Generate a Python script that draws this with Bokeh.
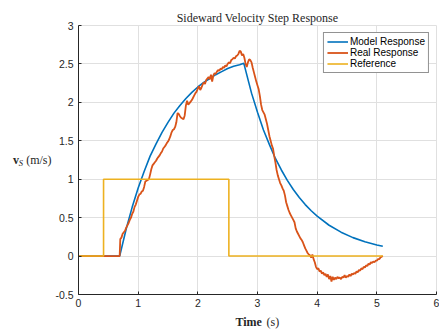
from bokeh.plotting import figure
from bokeh.models import Range1d, Label, Legend, LegendItem, FixedTicker
from bokeh.layouts import column, row
from bokeh.embed import file_html
from bokeh.resources import INLINE

# ---------------- data ----------------
model_t = [0.00, 0.69, 0.80, 0.90, 1.00, 1.10, 1.20, 1.30, 1.40, 1.50, 1.60, 1.70,
           1.80, 1.90, 2.00, 2.10, 2.20, 2.30, 2.40, 2.50, 2.60, 2.70, 2.77, 2.85,
           2.90, 3.00, 3.10, 3.20, 3.30, 3.40, 3.50, 3.60, 3.70, 3.80, 3.90, 4.00,
           4.20, 4.40, 4.60, 4.80, 5.00, 5.10]
model_v = [0.00, 0.00, 0.355, 0.637, 0.885, 1.10, 1.30, 1.46, 1.61, 1.74, 1.86, 1.96,
           2.05, 2.13, 2.20, 2.26, 2.31, 2.36, 2.40, 2.44, 2.47, 2.49, 2.51, 2.27,
           2.12, 1.87, 1.64, 1.45, 1.27, 1.12, 0.985, 0.867, 0.763, 0.670, 0.590, 0.519,
           0.401, 0.311, 0.240, 0.186, 0.144, 0.127]

real_t = [0.00, 0.69,
          0.70, 0.72, 0.74, 0.76, 0.78, 0.80, 0.82, 0.84, 0.86, 0.88,
          0.90, 0.92, 0.94, 0.96, 0.98, 1.00, 1.02, 1.04, 1.06, 1.08,
          1.10, 1.12, 1.14, 1.16, 1.18, 1.20, 1.22, 1.24, 1.26, 1.28,
          1.30, 1.32, 1.34, 1.36, 1.38, 1.40, 1.42, 1.44, 1.46, 1.48,
          1.50, 1.52, 1.54, 1.56, 1.58, 1.60, 1.62, 1.64, 1.66, 1.68,
          1.70, 1.72, 1.74, 1.76, 1.78, 1.80, 1.82, 1.84, 1.86, 1.88,
          1.90, 1.92, 1.94, 1.96, 1.98, 2.00, 2.02, 2.04, 2.06, 2.08,
          2.10, 2.12, 2.14, 2.16, 2.18, 2.20, 2.22, 2.24, 2.26, 2.28,
          2.30, 2.32, 2.34, 2.36, 2.38, 2.40, 2.42, 2.44, 2.46, 2.48,
          2.50, 2.52, 2.54, 2.56, 2.58, 2.60, 2.62, 2.64, 2.66, 2.68,
          2.70, 2.72, 2.74, 2.76, 2.78, 2.80, 2.82, 2.84, 2.86, 2.88,
          2.90, 2.92, 2.94, 2.96, 2.98, 3.00, 3.02, 3.04, 3.06, 3.08,
          3.10, 3.12, 3.14, 3.16, 3.18, 3.20, 3.22, 3.24, 3.26, 3.28,
          3.30, 3.32, 3.34, 3.36, 3.38, 3.40, 3.42, 3.44, 3.46, 3.48,
          3.50, 3.52, 3.54, 3.56, 3.58, 3.60, 3.62, 3.64, 3.66, 3.68,
          3.70, 3.72, 3.74, 3.76, 3.78, 3.80, 3.82, 3.84, 3.86, 3.88,
          3.90, 3.92, 3.94, 3.96, 3.98, 4.00, 4.02, 4.04, 4.06, 4.08,
          4.10, 4.12, 4.14, 4.16, 4.18, 4.20, 4.22, 4.24, 4.26, 4.28,
          4.30, 4.32, 4.34, 4.36, 4.38, 4.40, 4.42, 4.44, 4.46, 4.48,
          4.50, 4.52, 4.54, 4.56, 4.58, 4.60, 4.62, 4.64, 4.66, 4.68,
          4.70, 4.72, 4.74, 4.76, 4.78, 4.80, 4.82, 4.84, 4.86, 4.88,
          4.90, 4.92, 4.94, 4.96, 4.98, 5.00, 5.02, 5.04, 5.06, 5.08,
          5.10]
real_v = [0.00, 0.00,
          0.22, 0.24, 0.29, 0.31, 0.33, 0.37, 0.40, 0.43, 0.47, 0.50,
          0.55, 0.58, 0.64, 0.67, 0.72, 0.77, 0.80, 0.81, 0.84, 0.85,
          0.90, 0.97, 0.98, 0.99, 1.00, 1.06, 1.13, 1.18, 1.20, 1.22,
          1.24, 1.27, 1.29, 1.31, 1.34, 1.36, 1.40, 1.42, 1.44, 1.47,
          1.49, 1.52, 1.56, 1.61, 1.64, 1.65, 1.68, 1.74, 1.86, 1.85,
          1.82, 1.80, 1.79, 1.78, 1.83, 1.96, 2.02, 1.97, 1.99, 2.01,
          2.03, 2.06, 2.09, 2.12, 2.14, 2.18, 2.21, 2.16, 2.19, 2.23,
          2.26, 2.24, 2.29, 2.31, 2.33, 2.30, 2.36, 2.27, 2.35, 2.38,
          2.37, 2.40, 2.42, 2.41, 2.44, 2.43, 2.46, 2.45, 2.48, 2.47,
          2.50, 2.52, 2.51, 2.55, 2.56, 2.58, 2.57, 2.60, 2.61, 2.63,
          2.67, 2.66, 2.61, 2.63, 2.58, 2.50, 2.46, 2.52, 2.56, 2.55,
          2.52, 2.45, 2.39, 2.33, 2.27, 2.22, 2.17, 2.08, 1.97, 1.90,
          1.87, 1.84, 1.78, 1.72, 1.64, 1.56, 1.50, 1.44, 1.40, 1.30,
          1.22, 1.12, 1.05, 1.00, 0.95, 0.92, 0.88, 0.85, 0.79, 0.70,
          0.65, 0.60, 0.56, 0.53, 0.50, 0.47, 0.44, 0.36, 0.32, 0.29,
          0.26, 0.23, 0.21, 0.18, 0.14, 0.10, 0.07, 0.04, 0.02, 0.01,
          -0.02, 0.02, -0.04, -0.08, -0.14, -0.17, -0.16, -0.20, -0.19, -0.23,
          -0.21, -0.25, -0.23, -0.27, -0.24, -0.30, -0.26, -0.33, -0.27, -0.31,
          -0.28, -0.30, -0.27, -0.29, -0.28, -0.30, -0.27, -0.28, -0.25, -0.28,
          -0.26, -0.27, -0.24, -0.26, -0.23, -0.24, -0.22, -0.23, -0.20, -0.21,
          -0.18, -0.19, -0.16, -0.17, -0.14, -0.15, -0.12, -0.13, -0.10, -0.11,
          -0.08, -0.09, -0.07, -0.08, -0.06, -0.06, -0.04, -0.04, -0.02, -0.01,
          0.00]

ref_t = [0.00, 0.42, 0.42, 2.52, 2.52, 5.10]
ref_v = [0.0, 0.0, 1.0, 1.0, 0.0, 0.0]

x_ticks = [0, 1, 2, 3, 4, 5, 6]
x_tick_labels = ["0", "1", "2", "3", "4", "5", "6"]
y_ticks = [-0.5, 0, 0.5, 1, 1.5, 2, 2.5, 3]
y_tick_labels = ["-0.5", "0", "0.5", "1", "1.5", "2", "2.5", "3"]

series_names = ["Model Response", "Real Response", "Reference"]
series_colors = ["#0072BD", "#D95319", "#EDB120"]

title_text = "Sideward Velocity Step Response"
xlabel_parts = ["Time", "(s)"]
ylabel_parts = ["v", "S", "(m/s)"]

TEXT_COLOR = "#262626"
SERIF = "Liberation Serif"

# ---------------- layout sizes (pixels) ----------------
W, H = 439, 329
LEFT_W = 52         # y-label strip
BOTTOM_H = 18       # x-label strip
MAIN_H = H - BOTTOM_H


def text_strip(width, height):
    f = figure(width=width, height=height, output_backend="svg",
               toolbar_location=None, title=None,
               x_range=Range1d(0, width), y_range=Range1d(0, height),
               x_axis_location=None, y_axis_location=None, min_border=0)
    f.min_border_left = f.min_border_right = 0
    f.min_border_top = f.min_border_bottom = 0
    f.outline_line_color = None
    f.grid.visible = False
    f.background_fill_color = "white"
    f.border_fill_color = "white"
    return f


def add_text(f, x, y, text, size="12px", style="normal", align="left"):
    f.add_layout(Label(x=x, y=y, text=text, text_align=align,
                       text_baseline="alphabetic", text_font=SERIF,
                       text_font_style=style, text_font_size=size,
                       text_color=TEXT_COLOR))


# y-label strip (horizontal label, bold v with italic subscript S)
left = text_strip(LEFT_W, MAIN_H)
add_text(left, 51, 155, ylabel_parts[2], align="right")
add_text(left, 22.5, 152.5, ylabel_parts[1], size="8.5px", style="italic", align="right")
add_text(left, 18.5, 155, ylabel_parts[0], style="bold", align="right")

# x-label strip
bottom = text_strip(W, BOTTOM_H)
add_text(bottom, 235, BOTTOM_H - 10, xlabel_parts[0], style="bold")
add_text(bottom, 266, BOTTOM_H - 10, xlabel_parts[1])

# ---------------- main figure ----------------
p = figure(width=W - LEFT_W, height=MAIN_H, output_backend="svg",
           toolbar_location=None, title=title_text,
           x_range=Range1d(0, 6), y_range=Range1d(-0.5, 3),
           min_border_left=78 - LEFT_W, min_border_right=3, min_border_top=25,
           min_border_bottom=17)
p.title.align = "center"
p.title.text_font = SERIF
p.title.text_font_size = "12px"
p.title.text_font_style = "normal"
p.title.text_color = TEXT_COLOR
p.title.standoff = 2
p.title.offset = 0
p.background_fill_color = "white"
p.border_fill_color = "white"
p.outline_line_color = "#e0e0e0"

r_model = p.line(model_t, model_v, color=series_colors[0], line_width=1.6)
r_real = p.line(real_t, real_v, color=series_colors[1], line_width=1.8)
r_ref = p.line(ref_t, ref_v, color=series_colors[2], line_width=1.6)

p.xaxis.ticker = FixedTicker(ticks=x_ticks)
p.yaxis.ticker = FixedTicker(ticks=y_ticks)
p.xaxis.major_label_overrides = {t: l for t, l in zip(x_ticks, x_tick_labels)}
p.yaxis.major_label_overrides = {t: l for t, l in zip(y_ticks, y_tick_labels)}

for ax in (p.xaxis[0], p.yaxis[0]):
    ax.axis_line_color = TEXT_COLOR
    ax.axis_line_width = 1
    ax.major_tick_line_color = TEXT_COLOR
    ax.major_tick_in = 3
    ax.major_tick_out = 0
    ax.minor_tick_line_color = None
    ax.major_label_text_font = "Liberation Sans"
    ax.major_label_text_font_size = "10.5px"
    ax.major_label_text_color = TEXT_COLOR
p.xaxis.major_label_standoff = 4
p.yaxis.major_label_standoff = 5

p.grid.grid_line_color = "#e0e0e0"
p.grid.grid_line_width = 1

legend = Legend(items=[LegendItem(label=series_names[0], renderers=[r_model]),
                       LegendItem(label=series_names[1], renderers=[r_real]),
                       LegendItem(label=series_names[2], renderers=[r_ref])],
                location="top_right")
legend.margin = 7
legend.padding = 3
legend.spacing = 0
legend.glyph_width = 21
legend.glyph_height = 11
legend.label_height = 11
legend.label_standoff = 2
legend.label_text_font = "Liberation Sans"
legend.label_text_font_size = "10px"
legend.label_text_color = "black"
legend.border_line_color = TEXT_COLOR
legend.border_line_width = 1
legend.background_fill_color = "white"
legend.background_fill_alpha = 1
p.add_layout(legend)

layout = column(row(left, p), bottom)
open("out.html", "w").write(file_html(layout, INLINE))
